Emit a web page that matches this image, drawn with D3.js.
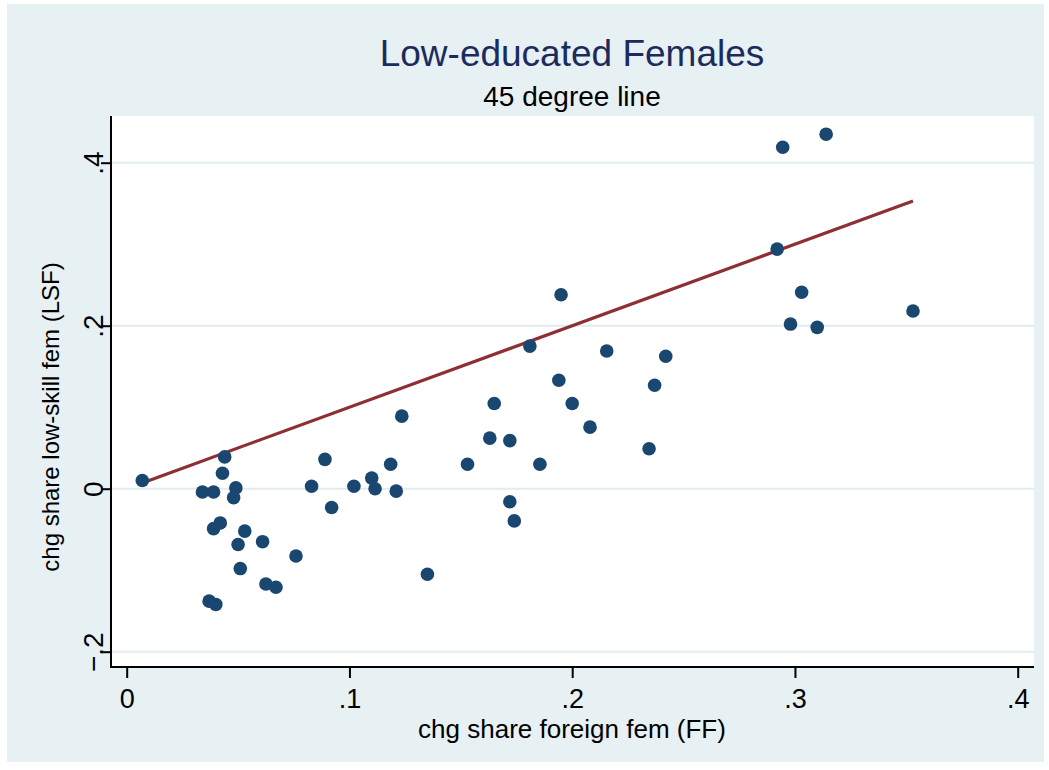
<!DOCTYPE html>
<html>
<head>
<meta charset="utf-8">
<script src="https://cdn.jsdelivr.net/npm/d3@7"></script>
<style>
  body { margin: 0; background: #ffffff; }
  text { font-family: "Liberation Sans", Arial, sans-serif; }
</style>
</head>
<body>
<div id="chart"></div>
<script>
// change in share foreign female (x) and low-skill female (y)
const ffValues = [
  0.007, 0.034, 0.039, 0.044, 0.043, 0.049, 0.048, 0.042, 0.039, 0.053,
  0.050, 0.061, 0.051, 0.0625, 0.067, 0.037, 0.040, 0.076, 0.083, 0.089,
  0.092, 0.102, 0.110, 0.1115, 0.1185, 0.121, 0.1235, 0.135, 0.153, 0.163,
  0.165, 0.172, 0.172, 0.174, 0.181, 0.1855, 0.194, 0.195, 0.200, 0.208,
  0.2155, 0.2345, 0.237, 0.242, 0.292, 0.2945, 0.298, 0.303, 0.310, 0.314,
  0.353
];
const lsfValues = [
  0.010, -0.004, -0.004, 0.039, 0.019, 0.001, -0.011, -0.042, -0.049, -0.052,
  -0.0685, -0.065, -0.098, -0.117, -0.121, -0.138, -0.142, -0.0825, 0.003, 0.036,
  -0.023, 0.003, 0.013, 0.000, 0.030, -0.003, 0.089, -0.105, 0.030, 0.062,
  0.1045, 0.059, -0.016, -0.0395, 0.175, 0.030, 0.133, 0.238, 0.1045, 0.0755,
  0.169, 0.049, 0.127, 0.1625, 0.294, 0.419, 0.202, 0.241, 0.198, 0.435,
  0.218
];

const xTicks = [0, 0.1, 0.2, 0.3, 0.4];
const yTicks = [-0.2, 0, 0.2, 0.4];
const tickLabel = (v) => (v === 0 ? "0" : d3.format(".1f")(v).replace("0.", "."));

const width = 1049;
const height = 770;
const bgColor = "#e7f0f2";
const gridColor = "#e2ecef";
const markerColor = "#1a476f";
const lineColor = "#8e2f36";

const plot = { left: 111, right: 1034, top: 116, bottom: 667 };

const points = ffValues.map((x, i) => ({ x: x, y: lsfValues[i] }));

const xScale = d3.scaleLinear().domain([0, 0.4]).range([126.7, 1017.7]);
const yScale = d3.scaleLinear().domain([-0.2, 0.4]).range([651.7, 162.7]);

const svg = d3
  .select("#chart")
  .append("svg")
  .attr("width", width)
  .attr("height", height);

/* background + plot region */
svg.append("rect")
  .attr("x", 7).attr("y", 4)
  .attr("width", 1037).attr("height", 758)
  .attr("fill", bgColor);

svg.append("rect")
  .attr("x", plot.left).attr("y", plot.top)
  .attr("width", plot.right - plot.left)
  .attr("height", plot.bottom - plot.top)
  .attr("fill", "#ffffff");

/* gridlines */
svg.append("g")
  .selectAll("line")
  .data(yTicks)
  .enter()
  .append("line")
  .attr("x1", plot.left).attr("x2", plot.right)
  .attr("y1", (d) => yScale(d)).attr("y2", (d) => yScale(d))
  .attr("stroke", gridColor)
  .attr("stroke-width", 2);

/* 45 degree line over the range of x */
const xExtent = d3.extent(ffValues);
svg.append("line")
  .attr("x1", xScale(xExtent[0])).attr("y1", yScale(xExtent[0]))
  .attr("x2", xScale(xExtent[1])).attr("y2", yScale(xExtent[1]))
  .attr("stroke", lineColor)
  .attr("stroke-width", 3.2);

/* markers */
svg.append("g")
  .selectAll("circle")
  .data(points)
  .enter()
  .append("circle")
  .attr("cx", (d) => xScale(d.x))
  .attr("cy", (d) => yScale(d.y))
  .attr("r", 6.8)
  .attr("fill", markerColor);

/* axes */
const xAxis = d3.axisBottom(xScale).tickValues(xTicks).tickSize(11).tickFormat(tickLabel);
const yAxis = d3.axisLeft(yScale).tickValues(yTicks).tickSize(10).tickFormat(tickLabel);

const gx = svg.append("g")
  .attr("transform", `translate(0, ${plot.bottom})`)
  .call(xAxis);
gx.select(".domain").remove();
gx.selectAll(".tick line").attr("stroke", "#000").attr("stroke-width", 2);
gx.selectAll(".tick text")
  .attr("y", 41)
  .attr("dy", null)
  .attr("fill", "#000")
  .style("font-size", "27px");

const gy = svg.append("g")
  .attr("transform", `translate(${plot.left}, 0)`)
  .call(yAxis);
gy.select(".domain").remove();
gy.selectAll(".tick line").attr("stroke", "#000").attr("stroke-width", 2);
gy.selectAll(".tick text")
  .attr("x", null)
  .attr("dy", null)
  .attr("transform", "translate(-8, 0) rotate(-90)")
  .attr("text-anchor", "middle")
  .attr("fill", "#000")
  .style("font-size", "28px");

// axis lines drawn on top
svg.append("line")
  .attr("x1", plot.left).attr("x2", plot.left)
  .attr("y1", plot.top).attr("y2", plot.bottom + 1)
  .attr("stroke", "#000").attr("stroke-width", 2);
svg.append("line")
  .attr("x1", plot.left - 1).attr("x2", plot.right)
  .attr("y1", plot.bottom).attr("y2", plot.bottom)
  .attr("stroke", "#000").attr("stroke-width", 2);

/* titles */
svg.append("text")
  .attr("x", 572).attr("y", 66)
  .attr("text-anchor", "middle")
  .attr("fill", "#1c2b5e")
  .style("font-size", "37px")
  .text("Low-educated Females");

svg.append("text")
  .attr("x", 572).attr("y", 106)
  .attr("text-anchor", "middle")
  .attr("fill", "#000")
  .style("font-size", "28px")
  .text("45 degree line");

svg.append("text")
  .attr("x", 572).attr("y", 738)
  .attr("text-anchor", "middle")
  .attr("fill", "#000")
  .style("font-size", "26px")
  .text("chg share foreign fem (FF)");

svg.append("text")
  .attr("transform", "translate(59, 417) rotate(-90)")
  .attr("text-anchor", "middle")
  .attr("fill", "#000")
  .style("font-size", "24px")
  .text("chg share low-skill fem (LSF)");
</script>
</body>
</html>
